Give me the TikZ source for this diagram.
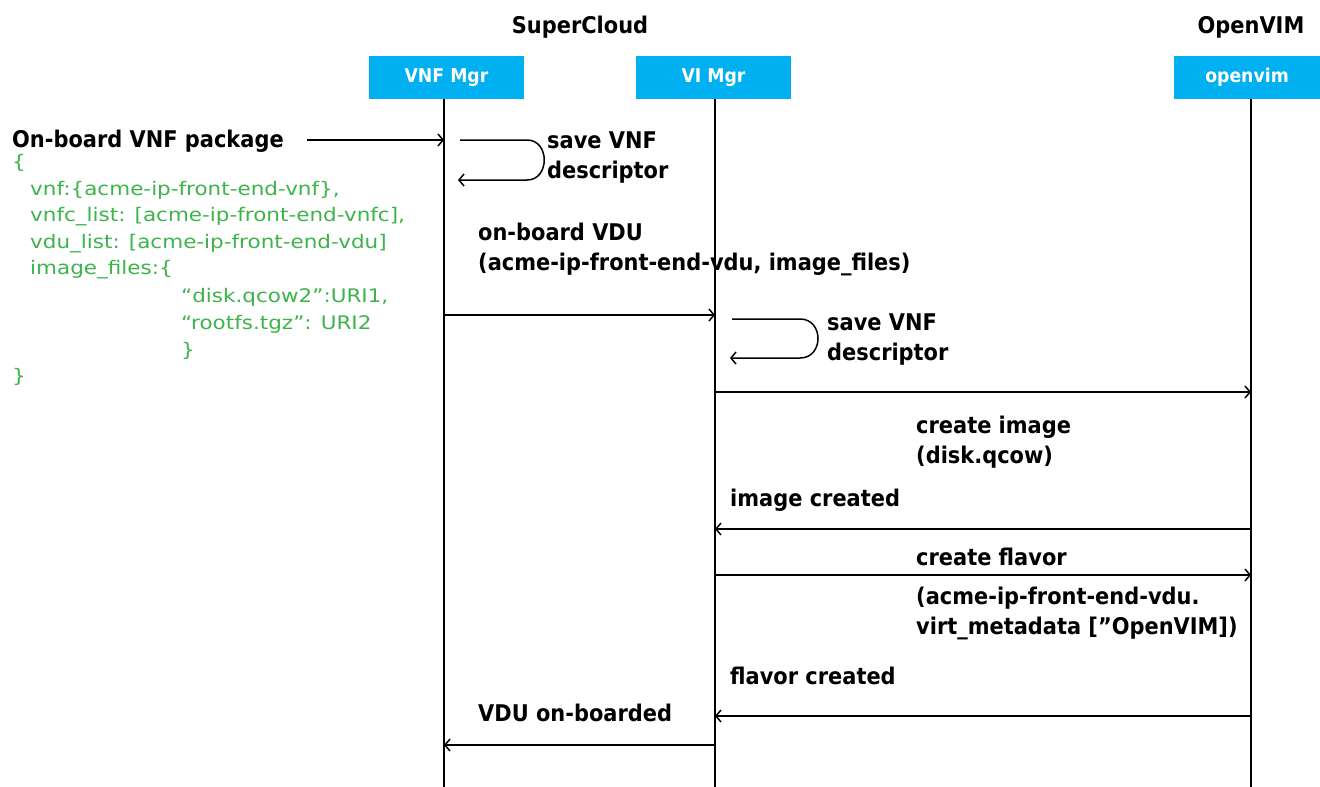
\documentclass[tikz,border=0pt]{standalone}
\usepackage{fontspec}
\setmainfont{DejaVu Sans}
\newfontfamily\codefont{DejaVu Sans}[FakeStretch=1.15]
\newfontfamily\lblfont{DejaVu Sans}[FakeStretch=0.91]
\usetikzlibrary{arrows.meta}
\definecolor{boxblue}{HTML}{00B0F0}
\definecolor{codegreen}{HTML}{3CB44A}
\tikzset{
  lbl/.style={anchor=base west, inner sep=0pt, align=left, font=\lblfont\fontsize{23}{29.5}\selectfont\bfseries},
  ttl/.style={anchor=base, inner sep=0pt, font=\lblfont\fontsize{23}{29}\selectfont\bfseries},
  code/.style={anchor=base west, inner sep=0pt, text=codegreen, font=\codefont\fontsize{18.7}{26}\selectfont},
  actor/.style={fill=boxblue, text=white, minimum height=43pt, inner sep=0pt, font=\lblfont\fontsize{19}{22}\selectfont\bfseries},
  life/.style={line width=1.5pt},
  msg/.style={line width=1.5pt, -{Straight Barb[length=5pt,width=12pt]}},
}
\begin{document}
\begin{tikzpicture}[x=1pt,y=-1pt]
\useasboundingbox (0,0) rectangle (1320,787);
% titles
\node[ttl] (sc) at (580,33) {SuperCloud};
\node[ttl] (ov) at (1251,33) {OpenVIM};
% actors
\node[actor, minimum width=155pt] (vnf) at (446.5,77.5) {VNF Mgr};
\node[actor, minimum width=155pt] (vi) at (713.5,77.5) {VI Mgr};
\node[actor, minimum width=146pt] (opv) at (1247,77.5) {openvim};
% lifelines
\coordinate (vnfb) at (444,787);
\coordinate (vib) at (715,787);
\coordinate (opvb) at (1251,787);
\draw[life] (444,99) -- (vnfb);
\draw[life] (715,99) -- (vib);
\draw[life] (1251,99) -- (opvb);
% lifeline points
\coordinate (a1) at (444,140);
\coordinate (b1) at (444,315);
\coordinate (b2) at (715,315);
\coordinate (c1) at (715,392);
\coordinate (c2) at (1251,392);
\coordinate (d1) at (1251,529);
\coordinate (d2) at (715,529);
\coordinate (e1) at (715,575);
\coordinate (e2) at (1251,575);
\coordinate (f1) at (1251,716);
\coordinate (f2) at (715,716);
\coordinate (g1) at (715,745);
\coordinate (g2) at (444,745);
% initial message
\node[lbl] (obp) at (12,147) {On-board VNF package};
\coordinate (obs) at (307,140);
\draw[msg] (obs) -- (a1);
% green code
\node[code] (c01) at (12,168) {\{};
\node[code] (c02) at (30,195) {vnf:\{acme-ip-front-end-vnf\},};
\node[code] (c03) at (30,221) {vnfc\_list: [acme-ip-front-end-vnfc],};
\node[code] (c04) at (30,248) {vdu\_list: [acme-ip-front-end-vdu]};
\node[code] (c05) at (30,274) {image\_files:\{};
\node[code] (c06) at (181,302) {“disk.qcow2”:URI1,};
\node[code] (c07) at (181,329) {“rootfs.tgz”: URI2};
\node[code] (c08) at (181,356) {\}};
\node[code] (c09) at (12,382) {\}};
% self loop on VNF Mgr
\coordinate (l1s) at (460,140);
\coordinate (l1e) at (458,180);
\draw[msg] (l1s) -- (527,140) .. controls (550,140) and (550,180) .. (527,180) -- (l1e);
\node[lbl] (sv1) at (547,178) {save VNF\\descriptor};
% on-board VDU
\node[lbl] (obv) at (478,270) {on-board VDU\\(acme-ip-front-end-vdu, image\_files)};
\draw[msg] (b1) -- (b2);
% self loop on VI Mgr
\coordinate (l2s) at (732,319);
\coordinate (l2e) at (730,358);
\draw[msg] (l2s) -- (800,319) .. controls (824,319) and (824,358) .. (800,358) -- (l2e);
\node[lbl] (sv2) at (827,360) {save VNF\\descriptor};
% create image
\draw[msg] (c1) -- (c2);
\node[lbl] (ci) at (916,463) {create image\\(disk.qcow)};
\node[lbl] (ic) at (730,506) {image created};
\draw[msg] (d1) -- (d2);
\node[lbl] (cf) at (916,565) {create flavor};
\draw[msg] (e1) -- (e2);
\node[lbl] (cfa) at (916,634) {(acme-ip-front-end-vdu.\\virt\_metadata [”OpenVIM])};
\node[lbl] (fc) at (730,684) {flavor created};
\draw[msg] (f1) -- (f2);
\node[lbl] (vob) at (478,721) {VDU on-boarded};
\draw[msg] (g1) -- (g2);
\end{tikzpicture}
\end{document}
